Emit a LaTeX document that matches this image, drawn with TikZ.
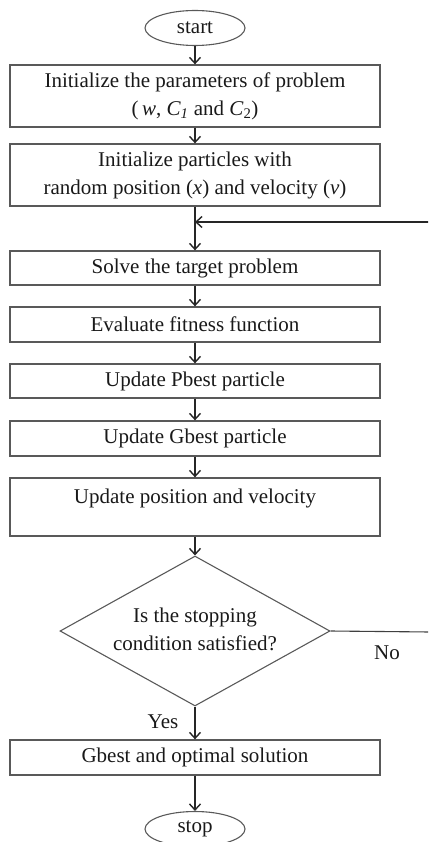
\documentclass[tikz,border=0pt]{standalone}
\usepackage{fontspec}
\setmainfont{Liberation Serif}
\usetikzlibrary{shapes.geometric,arrows.meta}
\begin{document}
\begin{tikzpicture}[x=1pt,y=-1pt,
  every node/.style={font=\fontsize{21}{28}\selectfont, text=black!90},
  procbox/.style={draw=black!65, line width=1.3pt, rectangle, minimum width=370pt, inner sep=0pt, align=center},
  term/.style={draw=black!65, line width=1.1pt, ellipse, minimum width=100pt, minimum height=35pt, inner sep=0pt},
  decision/.style={draw=black!65, line width=1.1pt, diamond, minimum width=270pt, minimum height=150pt, inner sep=0pt},
  dtext/.style={align=center, inner sep=0pt},
  arr/.style={draw=black!85, line width=1.4pt, -{Straight Barb[length=6pt,width=11pt,line width=1.4pt]}},
  plain/.style={draw=black!75, line width=1.1pt}]
\useasboundingbox (0,0) rectangle (428,842);
\clip (0,0) rectangle (428,842);
\node[term] (start) at (195,28) {start};
\node[procbox, minimum height=62pt] (b1) at (195,96) {Initialize the parameters of problem\\(\,\textit{w}, \textit{C}\textsubscript{\textit{1}} and \textit{C}\textsubscript{2})};
\node[procbox, minimum height=62pt] (b2) at (195,175) {Initialize particles with\\random position (\textit{x}) and velocity (\textit{v})};
\node[procbox, minimum height=34pt] (b3) at (195,268) {Solve the target problem};
\node[procbox, minimum height=35pt] (b4) at (195,324.5) {Evaluate fitness function};
\node[procbox, minimum height=34pt] (b5) at (195,381) {Update Pbest particle};
\node[procbox, minimum height=35pt] (b6) at (195,438.5) {Update Gbest particle};
\node[procbox, text height=25pt, text depth=33pt] (b7) at (195,507) {Update position and velocity};
\node[decision] (d) at (195,631) {};
\node[dtext] (dt) at (195,629) {Is the stopping\\condition satisfied?};
\node[procbox, minimum height=35pt] (b8) at (195,757.5) {Gbest and optimal solution};
\node[term] (stop) at (195,829) {stop};
\node (no) at (387,653) {No};
\node (yes) at (163,722) {Yes};
\coordinate (loopR) at (430,222);
\coordinate (noR) at (430,632);
\draw[arr] (start) -- (b1);
\draw[arr] (b1) -- (b2);
\draw[arr] (b2) -- (b3);
\draw[arr] (loopR) -- (b2.south |- loopR);
\draw[arr] (b3) -- (b4);
\draw[arr] (b4) -- (b5);
\draw[arr] (b5) -- (b6);
\draw[arr] (b6) -- (b7);
\draw[arr] (b7) -- (d);
\draw[arr] (d) -- (b8);
\draw[arr] (b8) -- (stop);
\draw[plain] (d.east) -- (noR);
\end{tikzpicture}
\end{document}
